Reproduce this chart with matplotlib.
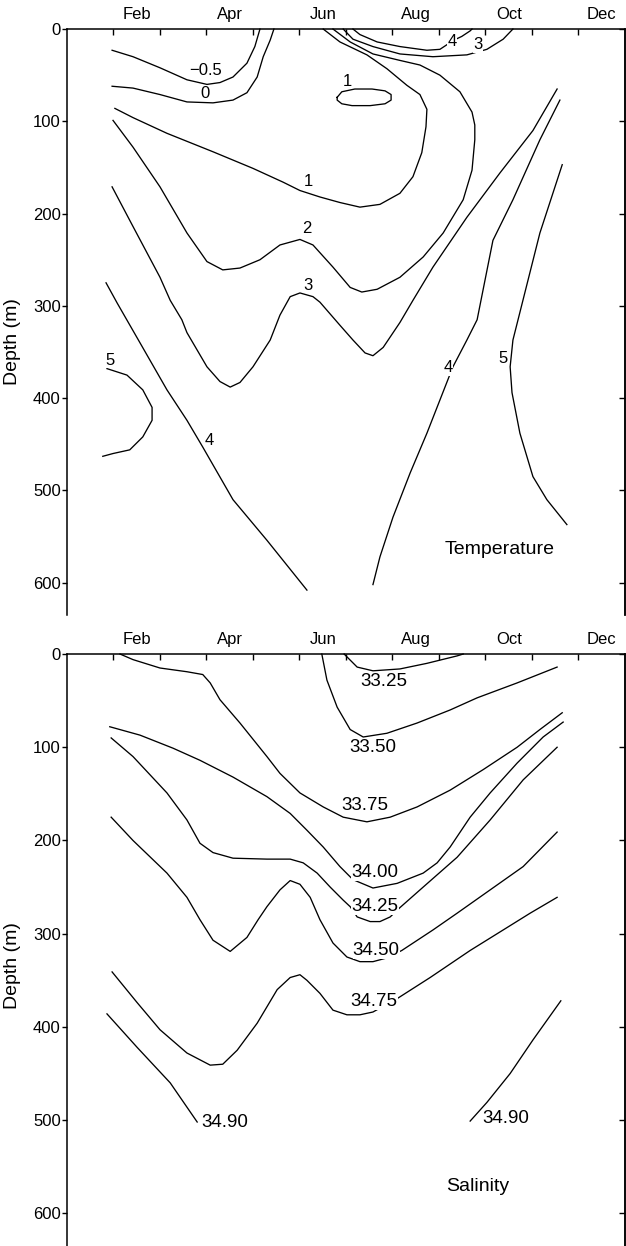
import matplotlib
matplotlib.use("Agg")
import matplotlib.pyplot as plt

plt.rcParams['font.family'] = ['Liberation Sans', 'DejaVu Sans']

# x axis: months since 1 Jan (0..12), y axis: depth (m)
month_names = ['Feb', 'Apr', 'Jun', 'Aug', 'Oct', 'Dec']
month_mid = [1.5, 3.5, 5.5, 7.5, 9.5, 11.5]
month_starts = list(range(1, 12))
depth_ticks = [0, 100, 200, 300, 400, 500, 600]

# ---- Temperature isotherms ----
t_m05_x = [0.97, 1.42, 2.00, 2.58, 3.01, 3.29, 3.57, 3.87, 4.04, 4.15]
t_m05_d = [23, 30, 42, 55, 60, 58, 52, 37, 19, 0]

t_0_x = [0.97, 1.42, 2.00, 2.58, 3.14, 3.57, 3.87, 4.09, 4.22, 4.37, 4.45]
t_0_d = [62, 64, 71, 79, 80, 77, 69, 52, 30, 12, 0]

t_1_x = [1.03, 1.42, 2.15, 3.14, 4.00, 4.65, 5.01, 5.44, 5.87, 6.30, 6.73, 7.16, 7.44,
         7.63, 7.72, 7.74, 7.59, 7.31, 6.88, 6.45, 5.87, 5.51]
t_1_d = [86, 96, 113, 133, 151, 166, 175, 182, 188, 193, 190, 178, 160,
         134, 106, 87, 71, 61, 43, 28, 14, 0]

t_1_eddy_x = [5.81, 5.91, 6.19, 6.56, 6.84, 6.97, 6.97, 6.84, 6.52, 6.13, 5.91, 5.81, 5.81]
t_1_eddy_d = [74, 68, 65, 65, 67, 71, 77, 81, 83, 83, 81, 77, 74]

t_2_x = [0.99, 1.42, 2.00, 2.58, 3.01, 3.35, 3.72, 4.15, 4.58, 5.01, 5.29, 5.72, 6.09,
         6.34, 6.67, 7.16, 7.66, 8.09, 8.52, 8.71, 8.77, 8.77, 8.71, 8.45, 8.02, 7.59,
         7.16, 6.58, 6.09, 5.72]
t_2_d = [99, 128, 171, 221, 252, 261, 259, 250, 234, 228, 234, 258, 280,
         285, 282, 269, 247, 221, 185, 153, 120, 104, 90, 68, 50, 39,
         34, 27, 14, 0]

t_3_x = [0.97, 1.42, 2.00, 2.22, 2.47, 2.58, 3.01, 3.29, 3.51, 3.72, 4.00, 4.37, 4.58,
         4.80, 5.01, 5.29, 5.44, 5.87, 6.15, 6.41, 6.58, 6.80, 7.16, 7.44, 7.87, 8.60,
         9.31, 10.02, 10.54]
t_3_d = [171, 214, 269, 294, 315, 329, 366, 382, 388, 383, 366, 337, 310,
         290, 286, 290, 296, 321, 337, 351, 354, 345, 318, 294, 258, 204,
         156, 110, 65]

t_3_top_x = [5.94, 6.15, 6.58, 7.16, 7.87, 8.60, 9.03, 9.38, 9.59]
t_3_top_d = [0, 11, 19, 27, 30, 28, 22, 11, 0]

t_4_top_x = [6.15, 6.30, 6.67, 7.16, 7.74, 8.02, 8.17, 8.28, 8.49, 8.67, 8.71]
t_4_top_d = [0, 6, 14, 19, 23, 22, 17, 13, 8, 2, 0]

t_4_left_x = [0.84, 1.08, 1.57, 2.15, 2.58, 2.92, 3.57, 4.30, 5.16]
t_4_left_d = [275, 297, 340, 391, 424, 453, 510, 554, 608]

t_4_right_x = [10.60, 10.17, 9.59, 9.16, 8.82, 8.60, 8.30, 8.02, 7.74, 7.38, 7.01, 6.73, 6.58]
t_4_right_d = [77, 120, 185, 229, 315, 337, 366, 402, 438, 481, 529, 572, 602]

t_5_left_x = [0.86, 1.29, 1.63, 1.83, 1.83, 1.63, 1.35, 0.99, 0.77]
t_5_left_d = [368, 375, 391, 410, 424, 442, 456, 460, 463]

t_5_right_x = [10.65, 10.17, 9.70, 9.59, 9.53, 9.57, 9.74, 10.02, 10.32, 10.75]
t_5_right_d = [147, 221, 315, 337, 366, 394, 438, 485, 510, 537]

temp_lines = [(t_m05_x, t_m05_d), (t_0_x, t_0_d), (t_1_x, t_1_d), (t_1_eddy_x, t_1_eddy_d),
              (t_2_x, t_2_d), (t_3_x, t_3_d), (t_3_top_x, t_3_top_d), (t_4_top_x, t_4_top_d),
              (t_4_left_x, t_4_left_d), (t_4_right_x, t_4_right_d),
              (t_5_left_x, t_5_left_d), (t_5_right_x, t_5_right_d)]

temp_labels = ['\u22120.5', '0', '1', '1', '2', '3', '4', '3', '4', '4', '5', '5']
temp_label_x = [2.97, 2.97, 5.20, 6.02, 5.16, 5.18, 8.28, 8.84, 3.05, 8.19, 9.38, 0.92]
temp_label_d = [45, 70, 165, 57, 216, 278, 13, 17, 446, 367, 357, 359]

# ---- Salinity isohalines ----
s_3325_x = [5.96, 6.24, 6.58, 7.16, 7.74, 8.39, 8.52]
s_3325_d = [0, 14, 18, 16, 10, 2, 0]

s_3350_x = [5.48, 5.59, 5.81, 6.09, 6.37, 6.88, 7.53, 8.24, 8.82, 9.68, 10.54]
s_3350_d = [0, 28, 57, 81, 89, 85, 74, 60, 47, 31, 14]

s_3375_x = [1.14, 1.42, 2.00, 2.58, 2.92, 3.08, 3.29, 3.72, 4.30, 4.58, 5.01, 5.51, 5.94,
            6.45, 6.95, 7.53, 8.24, 8.95, 9.68, 10.17, 10.65]
s_3375_d = [0, 6, 15, 19, 22, 31, 49, 74, 110, 128, 149, 164, 175,
            180, 175, 164, 146, 124, 100, 81, 63]

s_3400_x = [0.92, 1.57, 2.28, 2.86, 3.57, 4.30, 4.80, 5.16, 5.51, 5.87, 6.15, 6.58, 7.10,
            7.66, 7.96, 8.24, 8.67, 9.10, 9.68, 10.24, 10.67]
s_3400_d = [78, 87, 101, 114, 132, 153, 171, 189, 207, 228, 242, 251, 246,
            235, 224, 207, 175, 149, 117, 89, 73]

s_3425_x = [0.95, 1.42, 2.15, 2.58, 2.86, 3.14, 3.57, 4.30, 4.80, 5.08, 5.38, 5.66, 5.94,
            6.09, 6.24, 6.52, 6.73, 6.95, 7.16, 7.66, 8.39, 9.10, 9.81, 10.54]
s_3425_d = [90, 110, 149, 178, 203, 213, 219, 220, 220, 224, 235, 250, 264,
            271, 282, 287, 287, 282, 272, 250, 218, 178, 135, 100]

s_3450_x = [0.95, 1.42, 2.15, 2.58, 2.86, 3.14, 3.51, 3.87, 4.11, 4.30, 4.58, 4.80, 5.01,
            5.23, 5.44, 5.72, 6.02, 6.30, 6.58, 6.88, 7.20, 7.87, 8.39, 9.10, 9.81, 10.54]
s_3450_d = [175, 200, 235, 261, 285, 307, 319, 304, 285, 271, 253, 243, 247,
            261, 285, 310, 325, 330, 330, 326, 318, 296, 278, 253, 228, 191]

s_3475_x = [0.97, 1.51, 2.00, 2.58, 3.08, 3.35, 3.66, 4.09, 4.52, 4.80, 5.01, 5.16, 5.44,
            5.72, 6.02, 6.30, 6.58, 7.12, 7.81, 8.67, 9.38, 9.96, 10.54]
s_3475_d = [341, 374, 403, 428, 441, 440, 425, 396, 360, 347, 344, 350, 364,
            382, 387, 387, 384, 369, 347, 318, 296, 278, 261]

s_3490_left_x = [0.86, 1.51, 2.22, 2.80]
s_3490_left_d = [386, 422, 460, 502]

s_3490_right_x = [8.67, 9.03, 9.53, 10.02, 10.62]
s_3490_right_d = [501, 481, 450, 414, 372]

sal_lines = [(s_3325_x, s_3325_d), (s_3350_x, s_3350_d), (s_3375_x, s_3375_d),
             (s_3400_x, s_3400_d), (s_3425_x, s_3425_d), (s_3450_x, s_3450_d),
             (s_3475_x, s_3475_d), (s_3490_left_x, s_3490_left_d),
             (s_3490_right_x, s_3490_right_d)]

sal_labels = ['33.25', '33.50', '33.75', '34.00', '34.25', '34.50', '34.75', '34.90', '34.90']
sal_label_x = [6.82, 6.58, 6.41, 6.62, 6.62, 6.65, 6.60, 3.40, 9.44]
sal_label_d = [30, 100, 163, 234, 271, 318, 373, 502, 498]


def setup_axes(ax):
    ax.set_xlim(0, 12)
    ax.set_ylim(635, 0)
    ax.spines['bottom'].set_visible(False)
    for s in ['left', 'top', 'right']:
        ax.spines[s].set_linewidth(1.1)
    ax.xaxis.tick_top()
    ax.set_xticks(month_mid)
    ax.set_xticklabels(month_names)
    ax.set_xticks(month_starts, minor=True)
    ax.tick_params(axis='x', which='major', length=0, pad=5, labelsize=12)
    ax.tick_params(axis='x', which='minor', direction='in', length=4, width=1,
                   top=True, bottom=False)
    ax.set_yticks(depth_ticks)
    ax.tick_params(axis='y', direction='out', length=3.5, width=1, pad=1,
                   labelsize=12, right=False)
    right = ax.secondary_yaxis('right')
    right.set_yticks(depth_ticks)
    right.tick_params(direction='in', length=4, width=1, labelright=False)
    right.spines['right'].set_linewidth(1.1)
    ax.set_ylabel('Depth (m)', fontsize=14)


fig = plt.figure(figsize=(6.26, 12.46), dpi=100)
ax1 = fig.add_axes([0.1070, 0.5064, 0.8914, 0.4703])
ax2 = fig.add_axes([0.1070, 0.0, 0.8914, 0.4751])

for ax in (ax1, ax2):
    setup_axes(ax)
ax1.yaxis.set_label_coords(-0.082, 0.466)
ax2.yaxis.set_label_coords(-0.082, 0.473)

for x, d in temp_lines:
    ax1.plot(x, d, color='black', lw=0.95, clip_on=False)
for s, x, d in zip(temp_labels, temp_label_x, temp_label_d):
    ax1.text(x, d, s, ha='center', va='center', fontsize=12, zorder=4,
             bbox=dict(fc='white', ec='none', pad=0.2))
ax1.text(9.31, 564, 'Temperature', ha='center', va='center', fontsize=14)

for x, d in sal_lines:
    ax2.plot(x, d, color='black', lw=0.95, clip_on=False)
for s, x, d in zip(sal_labels, sal_label_x, sal_label_d):
    ax2.text(x, d, s, ha='center', va='center', fontsize=13.5, zorder=4,
             bbox=dict(fc='white', ec='none', pad=0.2))
ax2.text(8.84, 571, 'Salinity', ha='center', va='center', fontsize=14)

fig.savefig('out.png', dpi=100)
